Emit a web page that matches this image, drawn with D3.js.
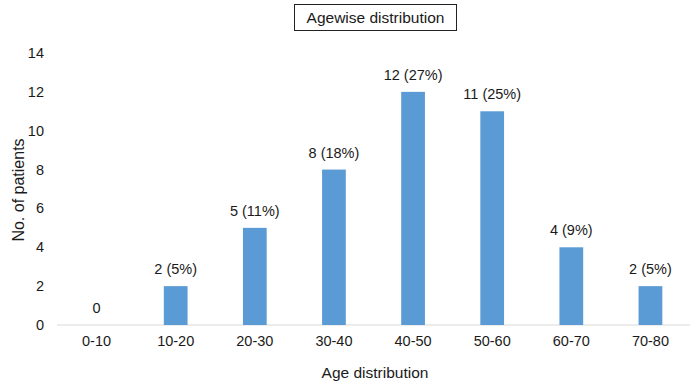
<!DOCTYPE html>
<meta charset="utf-8">
<title>Agewise distribution</title>
<style>
body { margin: 0; background: #fff; }
text { font-family: "Liberation Sans", Arial, sans-serif; fill: #1a1a1a; }
.bar-label { font-size: 14.5px; }
</style>
<body>
<script src="https://d3js.org/d3.v7.min.js"></script>
<script>

var ageGroups = ["0-10", "10-20", "20-30", "30-40", "40-50", "50-60", "60-70", "70-80"];
var patients = [0, 2, 5, 8, 12, 11, 4, 2];
var percents = ["", "5%", "11%", "18%", "27%", "25%", "9%", "5%"];
var yTicks = [0, 2, 4, 6, 8, 10, 12, 14];

var width = 692, height = 385;

var svg = d3.select("body").append("svg")
    .attr("width", width)
    .attr("height", height);

var x = d3.scaleBand()
    .domain(ageGroups)
    .range([57, 690])
    .paddingInner(0.7)
    .paddingOuter(0.35);

var y = d3.scaleLinear()
    .domain([0, 14])
    .range([325, 53]);

// y tick labels (no axis line)
svg.append("g")
  .selectAll("text")
  .data(yTicks)
  .enter().append("text")
    .attr("x", 44)
    .attr("y", function(d) { return y(d) + 5; })
    .attr("text-anchor", "end")
    .style("font-size", "14.5px")
    .text(function(d) { return d; });

// baseline
svg.append("line")
    .attr("x1", 57).attr("x2", 690)
    .attr("y1", y(0)).attr("y2", y(0))
    .attr("stroke", "#d9d9d9")
    .attr("stroke-width", 1.2);

svg.append("g")
  .selectAll("rect")
  .data(patients)
  .enter().append("rect")
    .attr("x", function(d, i) { return x(ageGroups[i]); })
    .attr("y", function(d) { return y(d); })
    .attr("width", x.bandwidth())
    .attr("height", function(d) { return y(0) - y(d); })
    .attr("fill", "#5b9bd5");

svg.append("g")
  .selectAll("text")
  .data(patients)
  .enter().append("text")
    .attr("class", "bar-label")
    .attr("x", function(d, i) { return x(ageGroups[i]) + x.bandwidth() / 2; })
    .attr("y", function(d) { return y(d) - 12; })
    .attr("text-anchor", "middle")
    .text(function(d, i) { return percents[i] ? d + " (" + percents[i] + ")" : d; });

// x tick labels
svg.append("g")
  .selectAll("text")
  .data(ageGroups)
  .enter().append("text")
    .attr("x", function(d) { return x(d) + x.bandwidth() / 2; })
    .attr("y", 346)
    .attr("text-anchor", "middle")
    .style("font-size", "14.5px")
    .text(function(d) { return d; });

svg.append("text")
    .attr("x", 375)
    .attr("y", 378)
    .attr("text-anchor", "middle")
    .style("font-size", "15.5px")
    .text("Age distribution");

svg.append("text")
    .attr("transform", "translate(24,190) rotate(-90)")
    .attr("text-anchor", "middle")
    .style("font-size", "16px")
    .text("No. of patients");

// title box
svg.append("rect")
    .attr("x", 294.5).attr("y", 4.5)
    .attr("width", 162).attr("height", 26)
    .attr("fill", "#fff")
    .attr("stroke", "#222")
    .attr("stroke-width", 1);

svg.append("text")
    .attr("x", 375.5)
    .attr("y", 23)
    .attr("text-anchor", "middle")
    .style("font-size", "15.5px")
    .text("Agewise distribution");

</script>
